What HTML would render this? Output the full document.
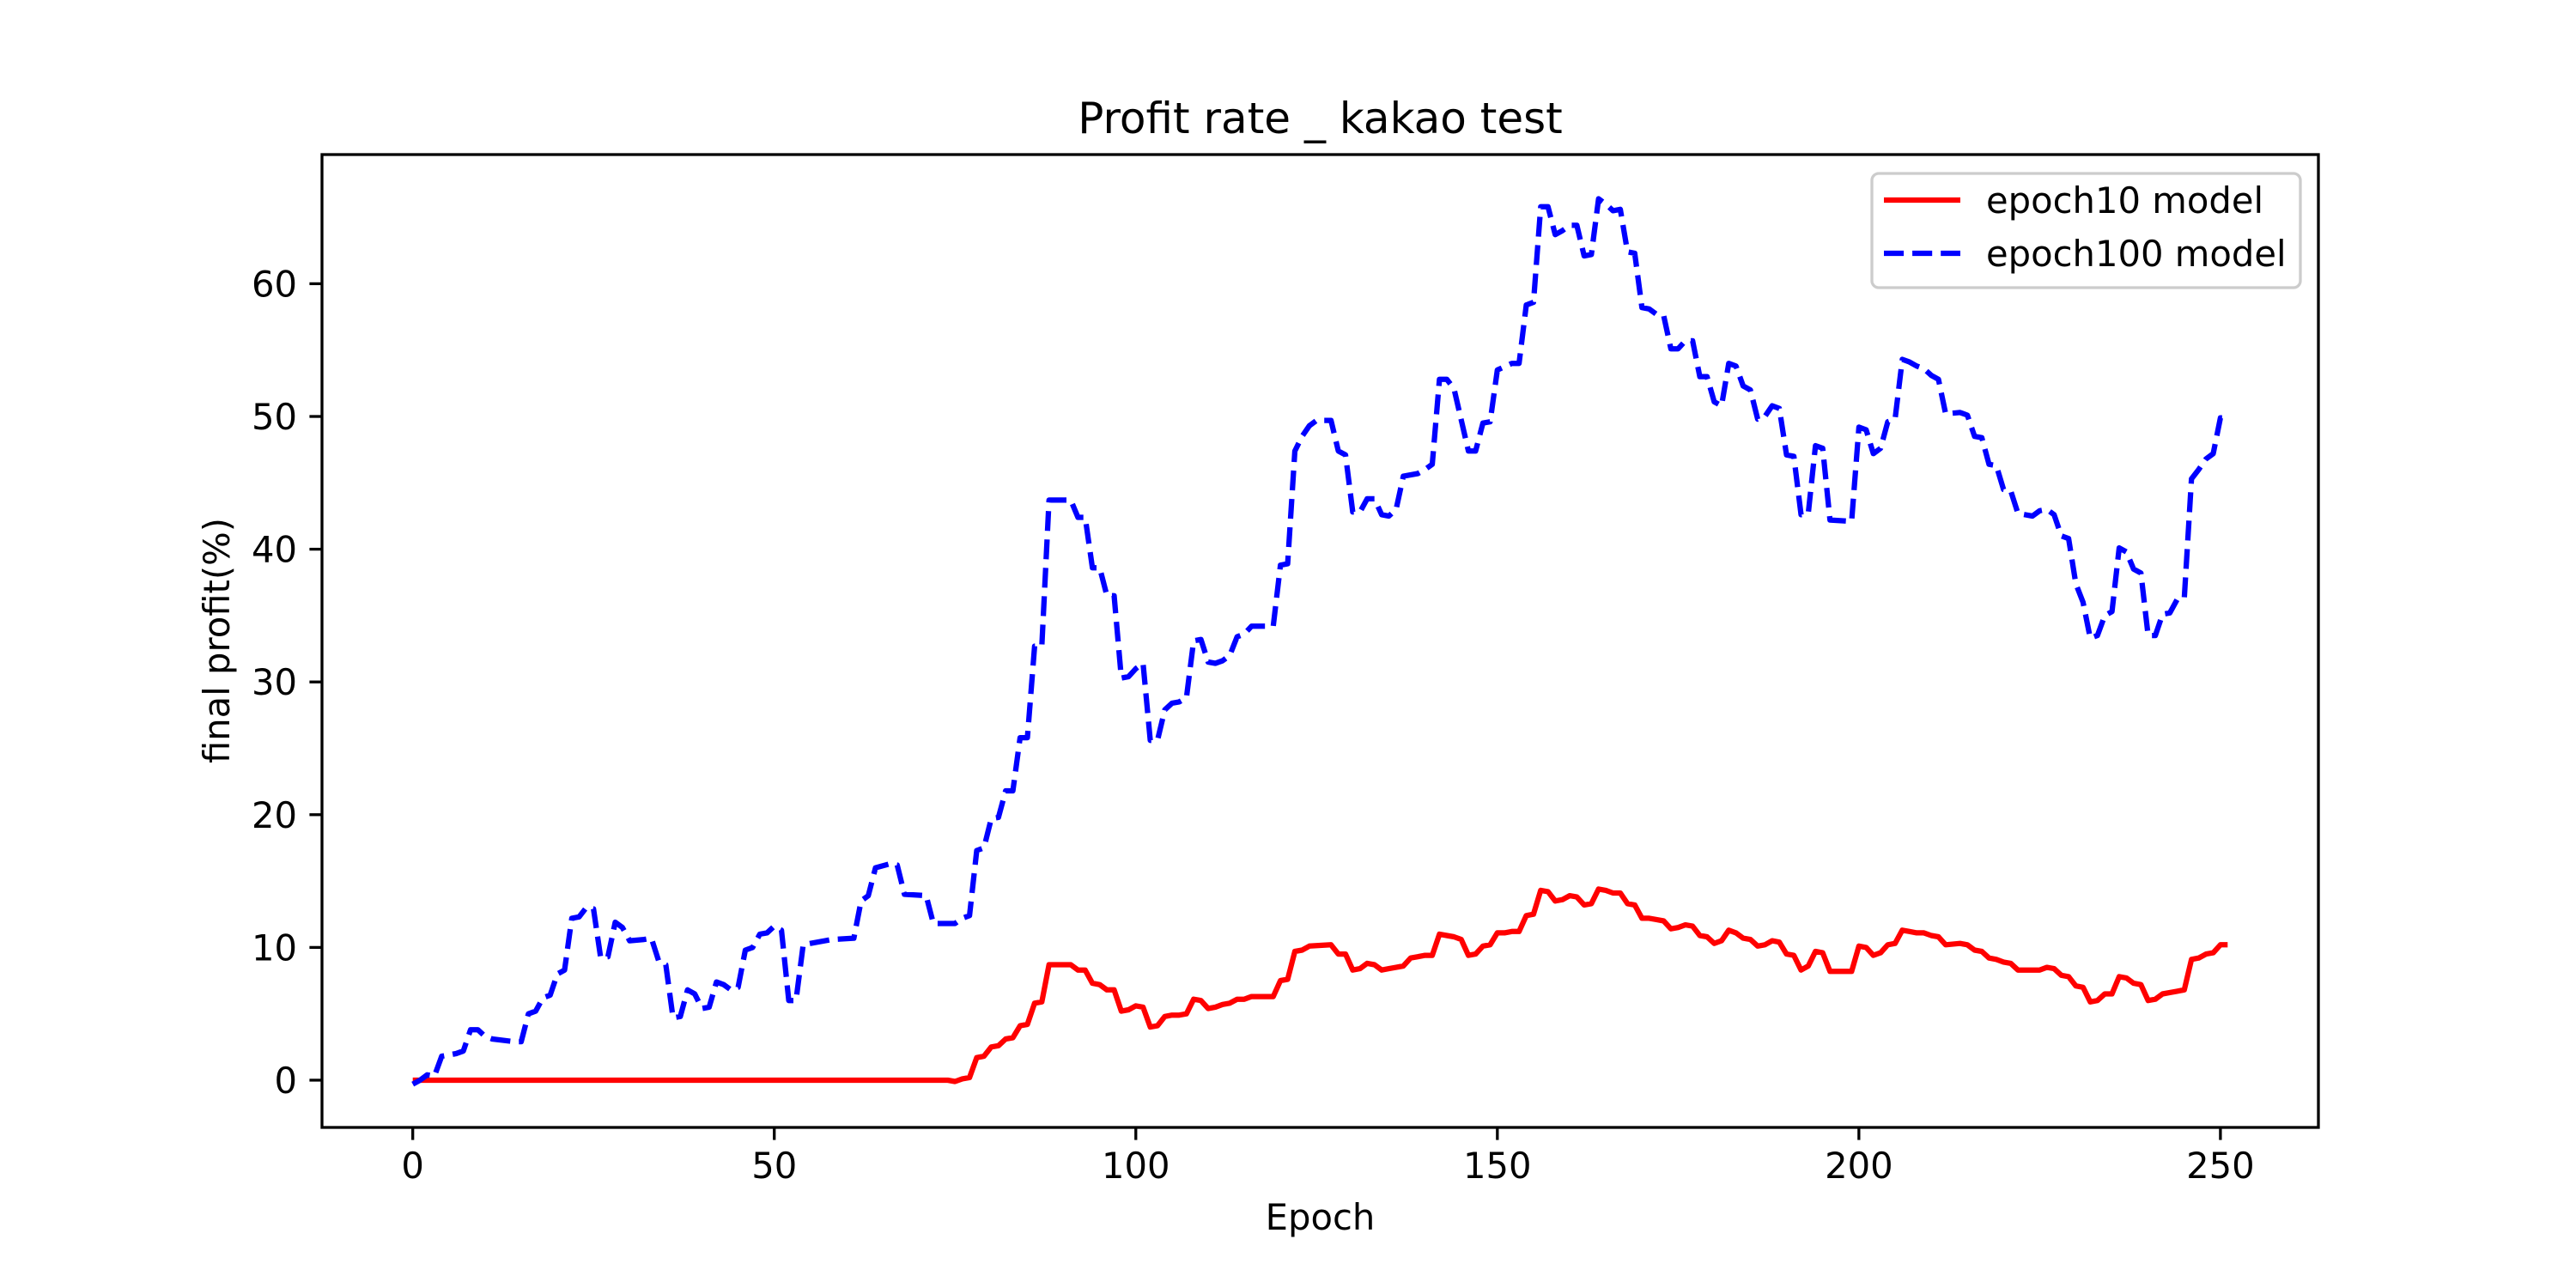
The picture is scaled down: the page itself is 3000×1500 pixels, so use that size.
<!DOCTYPE html>
<html><head><meta charset="utf-8"><style>
html,body{margin:0;padding:0;background:#fff;}
svg{display:block;font-family:"DejaVu Sans","Liberation Sans",sans-serif;}
</style></head><body>
<svg id="chart" width="3000" height="1500" viewBox="0 0 3000 1500" xmlns="http://www.w3.org/2000/svg">
<rect width="3000" height="1500" fill="#fff"/>
<text x="1537.5" y="155" font-size="50" text-anchor="middle">Profit rate _ kakao test</text>
<g id="grid-ticks"></g>
<g id="series"></g>
<rect x="375" y="180" width="2325" height="1133" fill="none" stroke="#000" stroke-width="3.3"/>
<text x="1537.5" y="1432" font-size="41.7" text-anchor="middle">Epoch</text>
<text x="0" y="0" font-size="41.7" text-anchor="middle" transform="translate(267,746) rotate(-90)">final profit(%)</text>
<g>
<rect x="2180" y="202" width="499" height="133" rx="8" fill="#fff" fill-opacity="0.8" stroke="#ccc" stroke-width="3.3"/>
<line x1="2194" y1="233" x2="2283" y2="233" stroke="#ff0000" stroke-width="6.25"/>
<text x="2313" y="248" font-size="41.7">epoch10 model</text>
<line x1="2194" y1="295" x2="2283" y2="295" stroke="#0000ff" stroke-width="6.25" stroke-dasharray="23.1 10"/>
<text x="2313" y="310" font-size="41.7">epoch100 model</text>
</g>
</svg>
<script>
const xTicks = [0, 50, 100, 150, 200, 250];
const yTicks = [0, 10, 20, 30, 40, 50, 60];
const redEpochs = [0,74,75,76,77,78,79,80,81,82,83,84,85,86,87,88,91,92,93,94,95,96,97,98,99,100,101,102,103,104,105,106,107,108,109,110,111,112,113,114,115,116,119,120,121,122,123,124,127,128,129,130,131,132,133,134,135,136,137,138,139,140,141,142,143,144,145,146,147,148,149,150,151,152,153,154,155,156,157,158,159,160,161,162,163,164,165,166,167,168,169,170,171,172,173,174,175,176,177,178,179,180,181,182,183,184,185,186,187,188,189,190,191,192,193,194,195,196,199,200,201,202,203,204,205,206,207,208,209,210,211,212,214,215,216,217,218,219,220,221,222,225,226,227,228,229,230,231,232,233,234,235,236,237,238,239,240,241,242,243,244,245,246,247,248,249,250,251];
const redValues = [0,0,-0.1,0.1,0.2,1.7,1.8,2.5,2.6,3.1,3.2,4.1,4.2,5.8,5.9,8.7,8.7,8.3,8.3,7.3,7.2,6.8,6.8,5.2,5.3,5.6,5.5,4.0,4.1,4.8,4.9,4.9,5.0,6.1,6.0,5.4,5.5,5.7,5.8,6.1,6.1,6.3,6.3,7.5,7.6,9.7,9.8,10.1,10.2,9.5,9.5,8.3,8.4,8.8,8.7,8.3,8.4,8.5,8.6,9.2,9.3,9.4,9.4,11.0,10.9,10.8,10.6,9.4,9.5,10.1,10.2,11.1,11.1,11.2,11.2,12.4,12.5,14.3,14.2,13.5,13.6,13.9,13.8,13.2,13.3,14.4,14.3,14.1,14.1,13.3,13.2,12.2,12.2,12.1,12.0,11.4,11.5,11.7,11.6,10.9,10.8,10.3,10.5,11.3,11.1,10.7,10.6,10.1,10.2,10.5,10.4,9.5,9.4,8.3,8.6,9.7,9.6,8.2,8.2,10.1,10.0,9.4,9.6,10.2,10.3,11.3,11.2,11.1,11.1,10.9,10.8,10.2,10.3,10.2,9.8,9.7,9.2,9.1,8.9,8.8,8.3,8.3,8.5,8.4,7.9,7.8,7.1,7.0,5.9,6.0,6.5,6.5,7.8,7.7,7.3,7.2,6.0,6.1,6.5,6.6,6.7,6.8,9.1,9.2,9.5,9.6,10.2,10.2];
const blueEpochs = [0,1,2,3,4,6,7,8,9,10,11,14,15,16,17,18,19,20,21,22,23,24,25,26,27,28,29,30,32,33,34,35,36,37,38,39,40,41,42,43,44,45,46,47,48,49,50,51,52,53,54,55,58,61,62,63,64,66,67,68,71,72,75,76,77,78,79,80,81,82,83,84,85,86,87,88,91,92,93,94,95,96,97,98,99,100,101,102,103,104,105,106,107,108,109,110,111,112,113,114,115,116,119,120,121,122,123,124,125,127,128,129,130,131,132,133,134,135,136,137,139,140,141,142,143,144,146,147,148,149,150,152,153,154,155,156,157,158,159,160,161,162,163,164,165,166,167,168,169,170,171,172,173,174,175,176,177,178,179,180,181,182,183,184,185,186,187,188,189,190,191,192,193,194,195,196,199,200,201,202,203,204,205,206,207,208,209,210,211,212,214,215,216,217,218,219,220,221,222,223,224,225,226,227,228,229,230,231,232,233,234,235,236,237,238,239,240,241,242,243,244,245,246,247,248,249,250,251];
const blueValues = [-0.3,0,0.4,0.3,1.8,2.0,2.2,3.8,3.8,3.3,3.1,2.9,2.9,5.0,5.2,6.2,6.4,8.0,8.3,12.2,12.3,13.0,12.9,9.2,9.3,11.9,11.5,10.5,10.6,10.7,9.0,8.7,4.7,4.8,6.8,6.5,5.4,5.5,7.4,7.2,6.8,7.0,9.8,10.0,11.0,11.1,11.6,11.3,6.0,6.0,10.2,10.3,10.6,10.7,13.5,13.9,16.0,16.3,16.2,14.0,13.9,11.8,11.8,12.2,12.4,17.3,17.5,19.7,19.8,21.8,21.8,25.8,25.8,32.7,32.7,43.7,43.7,42.4,42.4,38.6,38.6,36.5,36.5,30.3,30.4,31.0,31.4,25.6,25.6,27.9,28.4,28.5,28.8,33.1,33.2,31.5,31.4,31.6,32.0,33.4,33.6,34.2,34.2,38.8,38.9,47.4,48.5,49.3,49.7,49.7,47.4,47.1,42.8,42.8,43.8,43.8,42.6,42.5,43.0,45.5,45.7,46.0,46.4,52.8,52.8,52.1,47.4,47.4,49.5,49.6,53.5,54.0,54.0,58.4,58.6,65.8,65.8,63.7,64.0,64.4,64.4,62.1,62.2,66.4,66.0,65.5,65.6,62.4,62.3,58.2,58.1,57.7,57.6,55.1,55.1,55.7,55.7,53.0,53.0,51.1,50.8,54.0,53.8,52.3,52.0,49.8,50.0,50.8,50.6,47.1,47.0,42.6,42.7,47.8,47.6,42.2,42.1,49.2,49.0,47.2,47.6,49.6,49.8,54.3,54.1,53.8,53.6,53.1,52.8,50.2,50.3,50.1,48.5,48.4,46.4,46.3,44.5,44.4,42.7,42.6,42.5,42.9,43.0,42.6,41.0,40.8,37.4,36.0,33.3,33.5,35.0,35.3,40.1,39.8,38.5,38.2,33.5,33.5,35.1,35.2,36.2,36.3,45.3,46.0,46.8,47.2,49.9,49.9];

const NS = 'http://www.w3.org/2000/svg';
const X0 = 375, X1 = 2700, Y0 = 180, Y1 = 1313;
const xMin = -12.55, xMax = 263.55, yMin = -3.56, yMax = 69.73;
function xScale(v){ return X0 + (v - xMin) / (xMax - xMin) * (X1 - X0); }
function yScale(v){ return Y1 - (v - yMin) / (yMax - yMin) * (Y1 - Y0); }

const tg = document.getElementById('grid-ticks');
xTicks.forEach(t => {
  const x = xScale(t);
  const l = document.createElementNS(NS, 'line');
  l.setAttribute('x1', x); l.setAttribute('x2', x);
  l.setAttribute('y1', Y1); l.setAttribute('y2', Y1 + 14.6);
  l.setAttribute('stroke', '#000'); l.setAttribute('stroke-width', '3.3');
  
  
  tg.appendChild(l);
  const tx = document.createElementNS(NS, 'text');
  tx.setAttribute('x', x); tx.setAttribute('y', Y1 + 59);
  tx.setAttribute('font-size', '41.7'); tx.setAttribute('text-anchor', 'middle');
  tx.textContent = t;
  
  
  tg.appendChild(tx);
});
yTicks.forEach(t => {
  const y = yScale(t);
  const l = document.createElementNS(NS, 'line');
  l.setAttribute('x1', X0 - 14.6); l.setAttribute('x2', X0);
  l.setAttribute('y1', y); l.setAttribute('y2', y);
  l.setAttribute('stroke', '#000'); l.setAttribute('stroke-width', '3.3');
  
  
  tg.appendChild(l);
  const tx = document.createElementNS(NS, 'text');
  tx.setAttribute('x', X0 - 29); tx.setAttribute('y', y + 15);
  tx.setAttribute('font-size', '41.7'); tx.setAttribute('text-anchor', 'end');
  tx.textContent = t;
  
  
  tg.appendChild(tx);
});

const sg = document.getElementById('series');
function drawSeries(xs, ys, color, dash, name){
  const d = xs.map((e, i) => (i ? 'L' : 'M') + xScale(e).toFixed(1) + ',' + yScale(ys[i]).toFixed(1)).join(' ');
  const p = document.createElementNS(NS, 'path');
  p.setAttribute('d', d);
  p.setAttribute('fill', 'none');
  p.setAttribute('stroke', color);
  p.setAttribute('stroke-width', '6.25');
  p.setAttribute('stroke-linejoin', 'round');
  if (dash) p.setAttribute('stroke-dasharray', dash);
  
  
  sg.appendChild(p);
}
drawSeries(redEpochs, redValues, '#ff0000', null, 'epoch10-model-line');
drawSeries(blueEpochs, blueValues, '#0000ff', '23.1 10', 'epoch100-model-line');
</script>
</body></html>
